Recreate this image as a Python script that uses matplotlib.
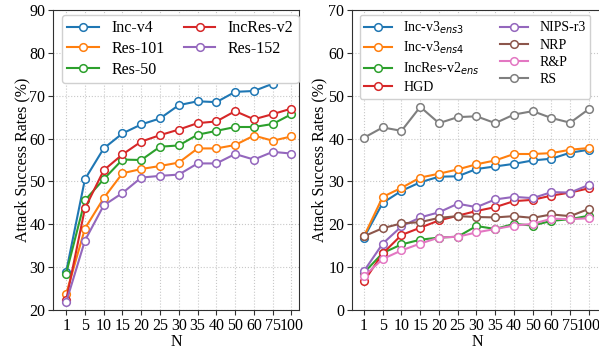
import matplotlib
matplotlib.use("Agg")
import matplotlib.pyplot as plt

plt.rcParams['font.family'] = ['Liberation Serif', 'DejaVu Serif']
plt.rcParams['mathtext.fontset'] = 'dejavusans'
plt.rcParams['font.size'] = 11.5

n_labels = ['1', '5', '10', '15', '20', '25', '30', '35', '40', '50', '60', '75', '100']

# left panel: normally trained models
left_names = ['Inc-v4', 'Res-101', 'Res-50', 'IncRes-v2', 'Res-152']
inc_v4 = [28.9, 50.5, 57.7, 61.2, 63.3, 64.7, 67.8, 68.7, 68.5, 70.9, 71.1, 72.8, 73.8]
res_101 = [23.7, 39.0, 46.1, 51.9, 52.9, 53.6, 54.4, 57.7, 57.7, 58.5, 60.7, 59.5, 60.5]
res_50 = [28.5, 45.6, 50.5, 55.1, 55.0, 58.1, 58.4, 60.9, 61.8, 62.7, 62.7, 63.4, 65.7]
incres_v2 = [22.3, 43.7, 52.6, 56.3, 59.3, 60.8, 62.1, 63.6, 64.0, 66.4, 64.5, 65.7, 67.0]
res_152 = [21.8, 36.2, 44.4, 47.3, 50.9, 51.3, 51.6, 54.2, 54.2, 56.4, 55.1, 56.9, 56.5]
left_series = [inc_v4, res_101, res_50, incres_v2, res_152]

# right panel: defended models
right_names = [r'Inc-v3$_{ens3}$', r'Inc-v3$_{ens4}$', r'IncRes-v2$_{ens}$', 'HGD',
               'NIPS-r3', 'NRP', 'R&P', 'RS']
inc_v3_ens3 = [16.9, 25.0, 27.8, 29.8, 31.1, 31.2, 32.9, 33.5, 34.1, 34.9, 35.3, 36.7, 37.4]
inc_v3_ens4 = [17.2, 26.4, 28.5, 30.9, 31.8, 32.8, 34.0, 34.9, 36.4, 36.4, 36.6, 37.4, 37.8]
incres_v2_ens = [8.7, 13.3, 15.3, 16.4, 16.9, 17.1, 19.6, 18.9, 20.1, 19.7, 20.8, 21.2, 22.0]
hgd = [6.7, 13.2, 17.5, 19.2, 20.9, 22.0, 23.1, 24.0, 25.4, 25.7, 26.7, 27.4, 28.4]
nips_r3 = [9.1, 15.5, 19.5, 21.6, 22.8, 24.8, 24.0, 25.8, 26.4, 26.1, 27.5, 27.4, 29.2]
nrp = [17.2, 19.1, 20.2, 20.5, 21.5, 21.9, 21.7, 21.6, 21.9, 21.5, 22.3, 21.9, 23.6]
r_and_p = [7.9, 11.9, 13.9, 15.5, 16.9, 17.1, 18.1, 18.9, 19.7, 20.1, 21.3, 21.2, 21.4]
rs = [40.2, 42.6, 41.8, 47.4, 43.6, 45.0, 45.2, 43.6, 45.6, 46.4, 44.8, 43.7, 46.9]
right_series = [inc_v3_ens3, inc_v3_ens4, incres_v2_ens, hgd, nips_r3, nrp, r_and_p, rs]

W, H = 599, 351
fig = plt.figure(figsize=(W / 100, H / 100), dpi=100)
ax1 = fig.add_axes([53 / W, 1 - 310 / H, 246 / W, 300 / H])
ax2 = fig.add_axes([352 / W, 1 - 310 / H, 251 / W, 300 / H])

x = list(range(len(n_labels)))


def draw(ax, names, series, ylim, xlim, legend_kw):
    for i, (name, vals) in enumerate(zip(names, series)):
        ax.plot(x, vals, color='C%d' % i, marker='o', markersize=5.5,
                markerfacecolor='white', markeredgewidth=1.1, linewidth=1.5,
                label=name)
    ax.set_xticks(x)
    ax.set_xticklabels(n_labels)
    ax.set_xlim(*xlim)
    ax.set_ylim(*ylim)
    ax.set_xlabel('N', labelpad=0)
    ax.grid(True, linestyle=':', color='#c8c8c8', linewidth=0.8)
    ax.set_axisbelow(True)
    for s in ax.spines.values():
        s.set_color('#303030')
    ax.tick_params(colors='#303030', labelcolor='black', length=3.5, pad=2)
    ax.legend(ncol=2, loc='upper left', fancybox=True, framealpha=1,
              edgecolor='#d0d0d0', borderpad=0.35, **legend_kw)


draw(ax1, left_names, left_series, (20, 90), (-0.7, 12.4),
     dict(bbox_to_anchor=(0.035, 0.985), columnspacing=1.2, handlelength=2.0,
          labelspacing=0.3, handletextpad=0.75, borderaxespad=0.0))
ax1.set_ylabel('Attack Success Rates (%)', labelpad=-1)

draw(ax2, right_names, right_series, (0, 70), (-0.64, 12.75),
     dict(bbox_to_anchor=(0.03, 0.985), columnspacing=1.5, handlelength=2.0,
          labelspacing=0.3, handletextpad=0.8, fontsize=10, borderaxespad=0.0))
ax2.set_ylabel('Attack Success Rates (%)', labelpad=0.5)

fig.savefig('out.png', dpi=100)
